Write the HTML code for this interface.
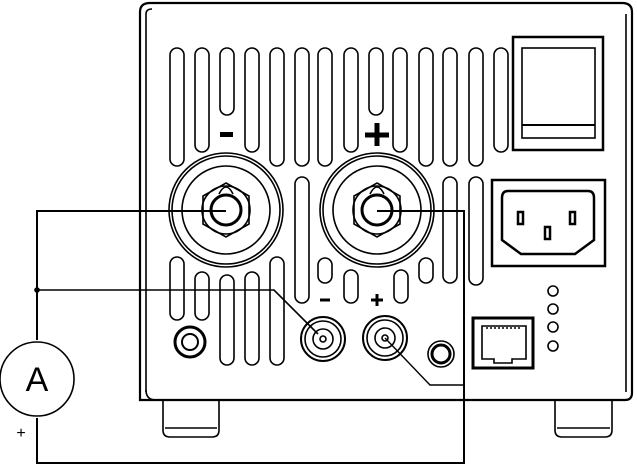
<!DOCTYPE html>
<html><head><meta charset="utf-8"><style>html,body{margin:0;padding:0;background:#fff}svg{display:block}</style></head>
<body>
<svg width="637" height="467" viewBox="0 0 637 467" xmlns="http://www.w3.org/2000/svg" fill="none" stroke="#000" stroke-width="1.6" font-family="Liberation Sans, sans-serif">
<path d="M140 400 V12 Q140 3 150 3 H622 Q632 3 632 12 V393 Q632 400 625 400 Z" stroke-width="2.2"/>
<path d="M146 392 V14 Q146 9 152 9" />
<path d="M626 392 V14"/>
<path d="M146 390 Q146 400 156 400"/>
<path d="M163 400 V430 Q163 437 170 437 H212 Q219 437 219 430 V400"/>
<line x1="165" y1="428" x2="217" y2="428"/>
<path d="M555 400 V430 Q555 437 562 437 H605 Q612 437 612 430 V400"/>
<line x1="557" y1="428" x2="610" y2="428"/>
<g>
<rect x="170" y="48" width="14" height="118" rx="7"/>
<rect x="195" y="48" width="14" height="104" rx="7"/>
<rect x="220" y="48" width="14" height="67" rx="7"/>
<rect x="245" y="48" width="14" height="104" rx="7"/>
<rect x="270" y="48" width="14" height="118" rx="7"/>
<rect x="295" y="48" width="14" height="118" rx="7"/>
<rect x="318" y="48" width="14" height="118" rx="7"/>
<rect x="344" y="48" width="14" height="104" rx="7"/>
<rect x="369" y="48" width="14" height="67" rx="7"/>
<rect x="393" y="48" width="14" height="104" rx="7"/>
<rect x="419" y="48" width="14" height="118" rx="7"/>
<rect x="443" y="48" width="14" height="118" rx="7"/>
<rect x="469" y="48" width="14" height="118" rx="7"/>
<rect x="494" y="48" width="14" height="104" rx="7"/>
</g>
<g>
<rect x="295" y="177" width="14" height="126" rx="7"/>
<rect x="443" y="177" width="14" height="106" rx="7"/>
<rect x="469" y="177" width="14" height="108" rx="7"/>
<rect x="170" y="257" width="14" height="63" rx="7"/>
<rect x="195" y="272" width="14" height="48" rx="7"/>
<rect x="220" y="275" width="14" height="90" rx="7"/>
<rect x="245" y="272" width="14" height="93" rx="7"/>
<rect x="270" y="257" width="14" height="108" rx="7"/>
<rect x="318" y="258" width="14" height="25" rx="7"/>
<rect x="344" y="270" width="14" height="33" rx="7"/>
<rect x="394" y="270" width="14" height="33" rx="7"/>
<rect x="419" y="258" width="14" height="25" rx="7"/>
</g>
<rect x="220" y="132" width="13" height="5" fill="#000" stroke="none"/>
<path d="M365 135 H389 M377 123 V146" stroke-width="5"/>
<path d="M320 300 H330" stroke-width="3"/>
<path d="M371 300 H383 M377 294 V306" stroke-width="3"/>
<g>
<circle cx="226" cy="210" r="57" fill="#fff"/>
<circle cx="226" cy="210" r="54"/>
<circle cx="226" cy="210" r="44"/>
<polygon points="226,183 249,196 249,224 226,237 203,224 203,196"/>
<circle cx="226" cy="210" r="24"/>
<path d="M219 194 Q226 180 233 194"/>
<circle cx="226" cy="210" r="15" stroke-width="3"/>
</g>
<g>
<circle cx="377" cy="210" r="57" fill="#fff"/>
<circle cx="377" cy="210" r="54"/>
<circle cx="377" cy="210" r="44"/>
<polygon points="377,183 400,196 400,224 377,237 354,224 354,196"/>
<circle cx="377" cy="210" r="24"/>
<path d="M370 194 Q377 180 384 194"/>
<circle cx="377" cy="210" r="15" stroke-width="3"/>
</g>
<rect x="513" y="37" width="90" height="113" stroke-width="2.5"/>
<rect x="522" y="48" width="73" height="90"/>
<line x1="522" y1="125" x2="595" y2="125" stroke-width="2"/>
<rect x="492" y="180" width="113" height="86" stroke-width="2.5"/>
<path d="M508 191 H588 Q594 191 594 198 V240 L575 254 H521 L502 240 V198 Q502 191 508 191 Z" stroke-width="2.5"/>
<rect x="518" y="212" width="5" height="12" stroke-width="2.5"/>
<rect x="570" y="212" width="5" height="12" stroke-width="2.5"/>
<rect x="545" y="227" width="5" height="12" stroke-width="2.5"/>
<circle cx="190" cy="342" r="15" stroke-width="3"/>
<circle cx="190" cy="342" r="8" stroke-width="2"/>
<circle cx="323" cy="339" r="22" stroke-width="2"/>
<circle cx="323" cy="339" r="18"/>
<circle cx="323" cy="339" r="10" stroke-width="1.6"/>
<circle cx="323" cy="339" r="3"/>
<circle cx="385" cy="338" r="22" stroke-width="2"/>
<circle cx="385" cy="338" r="18"/>
<circle cx="385" cy="338" r="10" stroke-width="1.6"/>
<circle cx="385" cy="338" r="3"/>
<circle cx="441" cy="354" r="13"/>
<circle cx="441" cy="354" r="9" stroke-width="3"/>
<rect x="473" y="318" width="60" height="50" stroke-width="3"/>
<path d="M482 326 H526 V359 H512 V363 H494 V359 H482 Z"/>
<path d="M486 328 H522" stroke-dasharray="2 2"/>
<circle cx="553" cy="291" r="5"/>
<circle cx="553" cy="309" r="5"/>
<circle cx="553" cy="327" r="5"/>
<circle cx="553" cy="346" r="5"/>
<g stroke-width="2">
<path d="M37 340 V211 H226"/>
<path d="M37 418 V463 H464 V211 H377"/>
<path d="M37 290 H274 L318 334" stroke-width="1.6"/>
<path d="M385 338 L430 385 H464" stroke-width="1.4"/>
</g>
<circle cx="37" cy="290" r="2" fill="#000"/>
<circle cx="37" cy="379" r="37" stroke-width="1.6"/>
<text x="37" y="391" font-size="34" text-anchor="middle" fill="#000" stroke="none">A</text>
<text x="21" y="438" font-size="16" text-anchor="middle" fill="#000" stroke="none">+</text>
</svg>
</body></html>
